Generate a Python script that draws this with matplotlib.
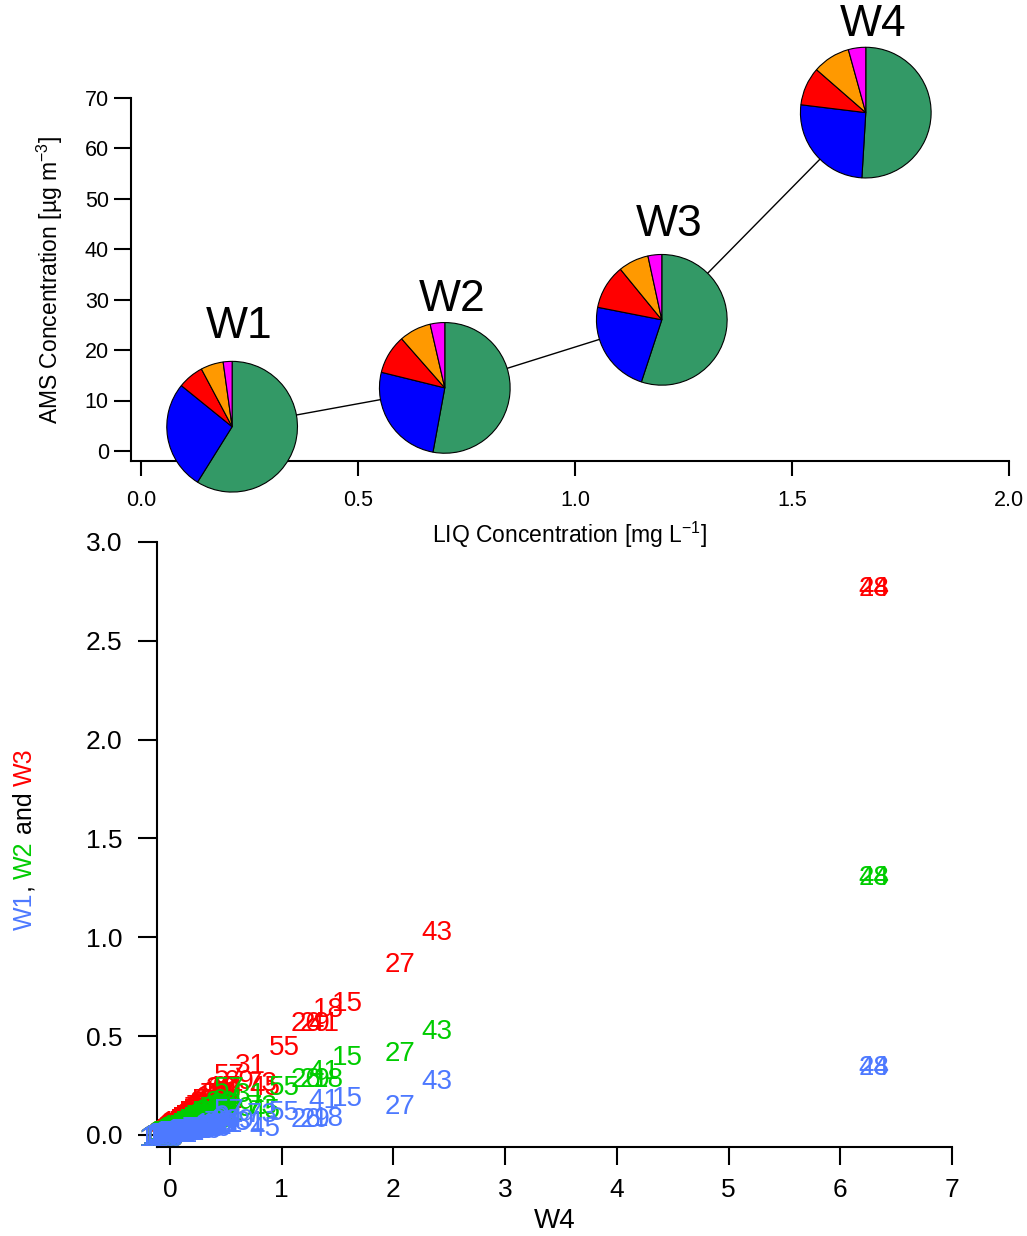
import numpy as np
import matplotlib
matplotlib.use("Agg")
import matplotlib.pyplot as plt

plt.rcParams['font.family'] = ['Liberation Sans', 'DejaVu Sans']
plt.rcParams['mathtext.fontset'] = 'custom'
plt.rcParams['mathtext.rm'] = 'Liberation Sans'
plt.rcParams['mathtext.it'] = 'Liberation Sans:italic'

W, H = 1027, 1236

## top panel: AMS vs LIQ with composition pies
samples = ['W1', 'W2', 'W3', 'W4']
liq = [0.21, 0.70, 1.20, 1.67]
ams = [4.8, 12.5, 26.0, 67.1]
# fractions clockwise from 12 o'clock
frac_org = [0.59, 0.53, 0.55, 0.51]
frac_no3 = [0.27, 0.26, 0.23, 0.26]
frac_so4 = [0.064, 0.097, 0.11, 0.095]
frac_nh4 = [0.056, 0.079, 0.075, 0.093]
frac_chl = [0.022, 0.036, 0.034, 0.043]
pie_colors = ['#339966', '#0000ff', '#ff0000', '#ff9900', '#ff00ff']
label_dy = [100, 88, 95, 88]  # px above pie centre

## bottom panel: m/z text markers, W4 on x
mz = [28, 44, 43, 27, 15, 18, 41, 29, 26, 55,
      57, 31, 73, 69, 45, 39, 17, 12, 71, 16,
      67, 42, 56, 81, 14, 91, 77, 83, 79, 53,
      60, 85, 58, 95, 30, 70, 51, 97, 82, 54,
      93, 32, 50, 59, 109, 20, 84, 65, 105, 13,
      68, 46, 74, 107, 25, 72, 115, 38, 52, 86,
      40, 87, 63, 61, 66, 98, 24, 64, 119, 37,
      62, 128, 19, 121, 49, 47, 48, 35, 33, 34, 36,
      75, 99, 111, 92, 94, 96, 80, 110, 101, 89,
      76, 78, 100, 108, 113, 123, 106, 88, 90, 112,
      103, 117, 104, 125, 114, 102, 116, 118, 120, 122,
      124, 126, 127, 129, 131, 133, 135, 137, 139, 141]
w4 = [6.30, 6.30, 2.39, 2.06, 1.59, 1.42, 1.38, 1.30, 1.22, 1.02,
      0.53, 0.72, 0.82, 0.62, 0.85, 0.46, 0.48, 0.42, 0.40, 0.38,
      0.36, 0.35, 0.33, 0.32, 0.30, 0.29, 0.28, 0.27, 0.26, 0.25,
      0.24, 0.23, 0.22, 0.21, 0.20, 0.19, 0.18, 0.18, 0.17, 0.16,
      0.16, 0.15, 0.14, 0.13, 0.13, 0.12, 0.12, 0.11, 0.11, 0.10,
      0.10, 0.09, 0.09, 0.09, 0.08, 0.08, 0.08, 0.07, 0.07, 0.07,
      0.06, 0.06, 0.06, 0.05, 0.05, 0.05, 0.04, 0.04, 0.04, 0.03,
      0.03, 0.03, 0.02, 0.02, 0.01, 0.01, 0.00, -0.02, -0.03, -0.05, -0.06,
      0.44, 0.50, 0.47, 0.41, 0.52, 0.37, 0.33, 0.31, 0.43, 0.39,
      0.27, 0.24, 0.35, 0.29, 0.22, 0.20, 0.26, 0.18, 0.14, 0.16,
      0.12, 0.10, 0.08, 0.07, 0.06, 0.05, 0.04, 0.03, 0.02, 0.01,
      0.00, -0.01, -0.04, -0.07, 0.02, 0.03, 0.05, 0.06, 0.09, 0.11]
w3 = [2.76, 2.76, 1.02, 0.86, 0.66, 0.63, 0.56, 0.56, 0.56, 0.44,
      0.30, 0.35, 0.26, 0.27, 0.24, 0.23, 0.24, 0.21, 0.20, 0.19,
      0.18, 0.17, 0.17, 0.16, 0.15, 0.14, 0.14, 0.13, 0.13, 0.12,
      0.12, 0.11, 0.11, 0.10, 0.10, 0.09, 0.09, 0.09, 0.08, 0.08,
      0.08, 0.07, 0.07, 0.06, 0.06, 0.06, 0.06, 0.05, 0.05, 0.05,
      0.05, 0.04, 0.04, 0.04, 0.04, 0.04, 0.04, 0.03, 0.03, 0.03,
      0.03, 0.03, 0.03, 0.02, 0.02, 0.02, 0.02, 0.02, 0.02, 0.01,
      0.01, 0.01, 0.01, 0.01, 0.00, 0.00, 0.00, -0.01, -0.01, -0.02, -0.02,
      0.20, 0.21, 0.17, 0.15, 0.24, 0.13, 0.12, 0.11, 0.16, 0.14,
      0.10, 0.09, 0.12, 0.10, 0.08, 0.07, 0.09, 0.07, 0.05, 0.06,
      0.05, 0.04, 0.03, 0.03, 0.02, 0.02, 0.02, 0.01, 0.01, 0.01,
      0.00, 0.00, -0.01, -0.02, 0.01, 0.01, 0.02, 0.02, 0.03, 0.04]
w2 = [1.30, 1.30, 0.52, 0.41, 0.39, 0.28, 0.32, 0.28, 0.28, 0.24,
      0.23, 0.20, 0.14, 0.13, 0.12, 0.16, 0.15, 0.14, 0.13, 0.12,
      0.12, 0.11, 0.11, 0.10, 0.10, 0.09, 0.09, 0.09, 0.08, 0.08,
      0.08, 0.07, 0.07, 0.07, 0.06, 0.06, 0.06, 0.05, 0.05, 0.05,
      0.05, 0.05, 0.04, 0.04, 0.04, 0.04, 0.04, 0.03, 0.03, 0.03,
      0.03, 0.03, 0.03, 0.03, 0.02, 0.02, 0.02, 0.02, 0.02, 0.02,
      0.02, 0.02, 0.02, 0.01, 0.01, 0.01, 0.01, 0.01, 0.01, 0.01,
      0.01, 0.01, 0.00, 0.00, 0.00, 0.00, 0.00, -0.01, -0.01, -0.01, -0.02,
      0.13, 0.15, 0.11, 0.10, 0.17, 0.09, 0.08, 0.07, 0.10, 0.09,
      0.07, 0.06, 0.07, 0.06, 0.05, 0.05, 0.06, 0.04, 0.04, 0.04,
      0.03, 0.03, 0.02, 0.02, 0.02, 0.01, 0.01, 0.01, 0.01, 0.01,
      0.00, 0.00, -0.01, -0.02, 0.00, 0.01, 0.01, 0.01, 0.02, 0.02]
w1 = [0.34, 0.34, 0.27, 0.14, 0.18, 0.08, 0.17, 0.075, 0.075, 0.11,
      0.12, 0.06, 0.10, 0.07, 0.03, 0.05, 0.05, 0.04, 0.04, 0.04,
      0.04, 0.04, 0.03, 0.03, 0.03, 0.03, 0.03, 0.03, 0.03, 0.02,
      0.02, 0.02, 0.02, 0.02, 0.02, 0.02, 0.02, 0.02, 0.02, 0.02,
      0.02, 0.01, 0.01, 0.01, 0.01, 0.01, 0.01, 0.01, 0.01, 0.01,
      0.01, 0.01, 0.01, 0.01, 0.01, 0.01, 0.01, 0.01, 0.01, 0.00,
      0.00, 0.00, 0.00, 0.00, 0.00, 0.00, 0.00, 0.00, 0.00, 0.00,
      0.00, 0.00, 0.00, 0.00, 0.00, 0.00, 0.00, -0.01, -0.01, -0.01, -0.02,
      0.06, 0.07, 0.05, 0.04, 0.08, 0.04, 0.03, 0.03, 0.05, 0.04,
      0.03, 0.03, 0.03, 0.03, 0.02, 0.02, 0.02, 0.02, 0.02, 0.02,
      0.01, 0.01, 0.01, 0.01, 0.01, 0.00, 0.00, 0.00, 0.00, 0.00,
      0.00, 0.00, -0.01, -0.02, 0.00, 0.00, 0.00, 0.01, 0.01, 0.01]

c_w1, c_w2, c_w3 = '#4d79ff', '#00cc00', '#ff0000'

fig = plt.figure(figsize=(W / 100, H / 100), dpi=100)

def style(ax, ticklen_x, ticklen_y, pad_x, pad_y, size):
    for s in ['top', 'right']:
        ax.spines[s].set_visible(False)
    for s in ['left', 'bottom']:
        ax.spines[s].set_linewidth(1.5)
    ax.tick_params(axis='x', direction='out', length=ticklen_x, width=1.5, pad=pad_x, labelsize=size)
    ax.tick_params(axis='y', direction='out', length=ticklen_y, width=1.5, pad=pad_y, labelsize=size)

# -- top
ax1 = fig.add_axes([131 / W, 1 - 461 / H, (1009 - 131) / W, (461 - 98) / H])
ax1.set_xlim(-0.023, 2.0)
ax1.set_ylim(-2.0, 70)
ax1.set_xticks([0.0, 0.5, 1.0, 1.5, 2.0])
ax1.set_xticklabels(['0.0', '0.5', '1.0', '1.5', '2.0'])
ax1.set_yticks(range(0, 71, 10))
style(ax1, 11, 12, 10, 4, 15.5)
ax1.plot(liq, ams, color='black', lw=1.0, zorder=1)
ax1.set_xlabel('LIQ Concentration [mg L$^{-1}$]', fontsize=16.5, labelpad=6)
ax1.set_ylabel('AMS Concentration [µg m$^{-3}$]', fontsize=16.5, labelpad=14)

r_px = 66
for i, name in enumerate(samples):
    cx, cy = ax1.transData.transform((liq[i], ams[i]))
    pax = fig.add_axes([(cx - r_px) / W, (cy - r_px) / H, 2 * r_px / W, 2 * r_px / H])
    fr = [frac_org[i], frac_no3[i], frac_so4[i], frac_nh4[i], frac_chl[i]]
    pax.pie(fr, colors=pie_colors, startangle=90, counterclock=False, radius=1,
            wedgeprops=dict(edgecolor='black', linewidth=0.8))
    pax.set_aspect('auto')
    pax.set_xlim(-1.01, 1.01)
    pax.set_ylim(-1.01, 1.01)
    pax.axis('off')
    fig.text((cx + 7) / W, (cy + label_dy[i]) / H, name, fontsize=32,
             ha='center', va='center')

# -- bottom
ax2 = fig.add_axes([157 / W, 1 - 1147 / H, (952 - 157) / W, (1147 - 542) / H])
ax2.patch.set_visible(False)
ax2.set_xlim(-0.116, 7.0)
ax2.set_ylim(-0.061, 3.0)
ax2.set_xticks(range(0, 8))
ax2.set_yticks([0.0, 0.5, 1.0, 1.5, 2.0, 2.5, 3.0])
ax2.set_yticklabels(['0.0', '0.5', '1.0', '1.5', '2.0', '2.5', '3.0'])
style(ax2, 13, 14, 9, 11, 19)
ax2.set_xlabel('W4', fontsize=20, labelpad=5)

for vals, col in [(w3, c_w3), (w2, c_w2), (w1, c_w1)]:
    for m, x, y in zip(mz, w4, vals):
        ax2.text(x, y, str(m), color=col, fontsize=20, ha='center', va='center', clip_on=False)

# multicolour rotated y label
parts = [('W1', c_w1), (', ', 'black'), ('W2', c_w2), (' and ', 'black'), ('W3', c_w3)]
rend = fig.canvas.get_renderer()
ypos = H - 930
for s, col in parts:
    t = fig.text(25 / W, ypos / H, s, color=col, fontsize=18, rotation=90,
                 ha='center', va='bottom')
    ypos += t.get_window_extent(renderer=rend).height

fig.savefig('out.png', dpi=100)
